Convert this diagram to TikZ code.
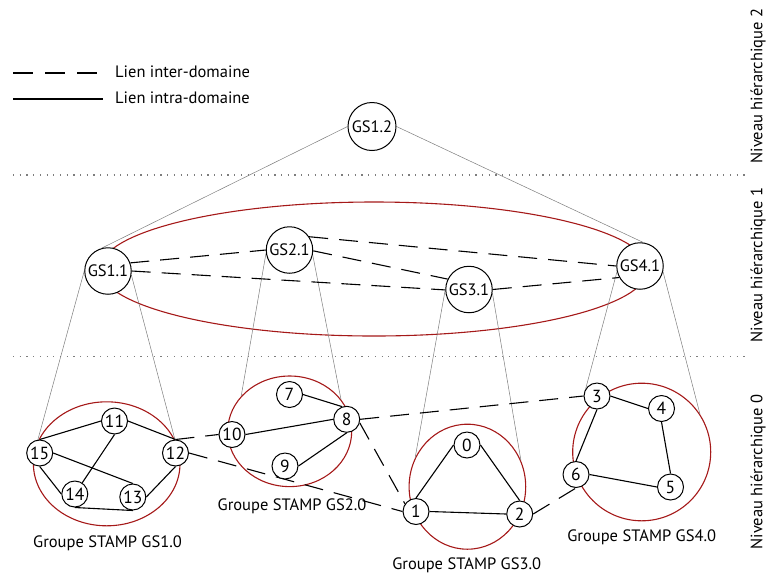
\documentclass[tikz,border=0pt]{standalone}
\usepackage{fontspec}
\setmainfont{PT Sans}
\usetikzlibrary{shapes.geometric,backgrounds}
\definecolor{grpred}{RGB}{165,25,25}
\definecolor{conegray}{RGB}{125,125,125}
\begin{document}
\begin{tikzpicture}[x=1pt,y=-1pt,
  txt/.style={font=\fontsize{16.5}{18}\selectfont,inner sep=0pt},
  lvltwo/.style={circle,draw,line width=1pt,fill=white,inner sep=0pt,minimum size=48pt,font=\fontsize{16.5}{18}\selectfont},
  lvlone/.style={circle,draw,line width=1pt,fill=white,inner sep=0pt,minimum size=46.5pt,font=\fontsize{16.5}{18}\selectfont},
  pc/.style={circle,draw,line width=1pt,fill=white,inner sep=0pt,minimum size=26pt,font=\fontsize{17.5}{18}\selectfont},
  grp/.style={ellipse,draw=grpred,line width=1.1pt,inner sep=0pt},
  intra/.style={line width=1.1pt},
  inter/.style={line width=1.1pt,dash pattern=on 19pt off 11pt},
  legdash/.style={line width=1.1pt,dash pattern=on 20pt off 12pt},
  cone/.style={conegray,line width=0.5pt},
  sepline/.style={conegray,line width=1.2pt,dash pattern=on 1.2pt off 5.5pt},
  lvltxt/.style={txt,rotate=90}
]
\useasboundingbox (0,0) rectangle (767,574);

% legend
\coordinate (la1) at (13,73);
\coordinate (la2) at (97,73);
\coordinate (lb1) at (13,99);
\coordinate (lb2) at (103,99);
\node[txt,anchor=west] (ltxt1) at (115,72) {Lien inter-domaine};
\node[txt,anchor=west] (ltxt2) at (115,98) {Lien intra-domaine};
\draw[legdash] (la1) -- (la2);
\draw[intra] (lb1) -- (lb2);

% separators
\coordinate (s1l) at (13,175);
\coordinate (s1r) at (745,175);
\coordinate (s2l) at (13,356.5);
\coordinate (s2r) at (745,356.5);
\draw[sepline] (s1l) -- (s1r);
\draw[sepline] (s2l) -- (s2r);

% level labels
\node[lvltxt] (nv2) at (758,86) {Niveau hiérarchique 2};
\node[lvltxt] (nv1) at (758,265) {Niveau hiérarchique 1};
\node[lvltxt] (nv0) at (758,472) {Niveau hiérarchique 0};

% level 2 and 1 nodes
\node[lvltwo] (g12) at (372,126.5) {GS1.2};
\node[lvlone] (g11) at (108,271) {GS1.1};
\node[lvlone] (g21) at (289.5,250) {GS2.1};
\node[lvlone] (g31) at (469,289.5) {GS3.1};
\node[lvlone] (g41) at (640,266) {GS4.1};

% level 0 nodes
\node[pc] (n15) at (39.7,453) {15};
\node[pc] (n11) at (114.5,421) {11};
\node[pc] (n12) at (175.5,453) {12};
\node[pc] (n14) at (74.8,494) {14};
\node[pc] (n13) at (132.8,497) {13};
\node[pc] (n10) at (232,434.5) {10};
\node[pc] (n7) at (289.5,394.5) {7};
\node[pc] (n8) at (346.7,419.3) {8};
\node[pc] (n9) at (285,466) {9};
\node[pc] (n0) at (467,445) {0};
\node[pc] (n1) at (416,511.5) {1};
\node[pc] (n2) at (519.7,514) {2};
\node[pc] (n3) at (597,396) {3};
\node[pc] (n4) at (661.5,408.5) {4};
\node[pc] (n5) at (670.5,487) {5};
\node[pc] (n6) at (576,474.5) {6};

% group labels
\node[txt] (t10) at (107.5,543) {Groupe STAMP GS1.0};
\node[txt] (t20) at (292,506) {Groupe STAMP GS2.0};
\node[txt] (t30) at (466.7,565) {Groupe STAMP GS3.0};
\node[txt] (t40) at (641.7,537.5) {Groupe STAMP GS4.0};

\begin{scope}[on background layer]
  % red group outlines
  \node[grp,minimum width=548pt,minimum height=134pt] (r1) at (374,269) {};
  \node[grp,minimum width=146.6pt,minimum height=124pt] (r10) at (106.7,463.8) {};
  \node[grp,minimum width=124pt,minimum height=110.6pt] (r20) at (289.7,431.3) {};
  \node[grp,minimum width=116.6pt,minimum height=125pt] (r30) at (467.4,486.7) {};
  \node[grp,minimum width=138pt,minimum height=137.6pt] (r40) at (641.7,452) {};

  % hierarchy cone lines
  \draw[cone] (g12.west) -- (g11.105);
  \draw[cone] (g12.east) -- (g41.82);
  \draw[cone] (g11.180) -- (r10.164.6);
  \draw[cone] (g11.-10) -- (r10.19.2);
  \draw[cone] (g21.188) -- (r20.144.2);
  \draw[cone] (g21.-12) -- (r20.32.7);
  \draw[cone] (g31.180) -- (r30.151.5);
  \draw[cone] (g31.-9) -- (r30.26);
  \draw[cone] (g41.194) -- (n3.147);
  \draw[cone] (g41.-14) -- (r40.33.4);

  % level 1 inter-domain links
  \draw[inter] (g11.20) -- (g21.180);
  \draw[inter] (g11.0) -- (g31.181);
  \draw[inter] (g21.34) -- (g41.180);
  \draw[inter] (g21.-2) -- (g31.154);
  \draw[inter] (g31.0) -- (g41.209);

  % intra-domain links
  \draw[intra] (n15.north) -- (n11.west);
  \draw[intra] (n11.east) -- (n12.north);
  \draw[intra] (n15.east) -- (n13.north);
  \draw[intra] (n15.south) -- (n14.west);
  \draw[intra] (n11.south) -- (n14);
  \draw[intra] (n14.south) -- (n13.south);
  \draw[intra] (n12.south) -- (n13.east);
  \draw[intra] (n7.east) -- (n8.110);
  \draw[intra] (n10.east) -- (n8.west);
  \draw[intra] (n9.east) -- (n8.south);
  \draw[intra] (n0.west) -- (n1.north);
  \draw[intra] (n0.east) -- (n2.north);
  \draw[intra] (n1.east) -- (n2.west);
  \draw[intra] (n3.east) -- (n4.west);
  \draw[intra] (n4.south) -- (n5.north);
  \draw[intra] (n3.south) -- (n6.north);
  \draw[intra] (n6.east) -- (n5.west);

  % level 0 inter-domain links
  \draw[inter] (n12.north) -- (n10.west);
  \draw[inter] (n12.east) -- (n1.west);
  \draw[inter] (n8.east) -- (n3.west);
  \draw[inter] (n8.-15) -- (n1.145);
  \draw[inter] (n2.east) -- (n6.south);
\end{scope}
\end{tikzpicture}
\end{document}
